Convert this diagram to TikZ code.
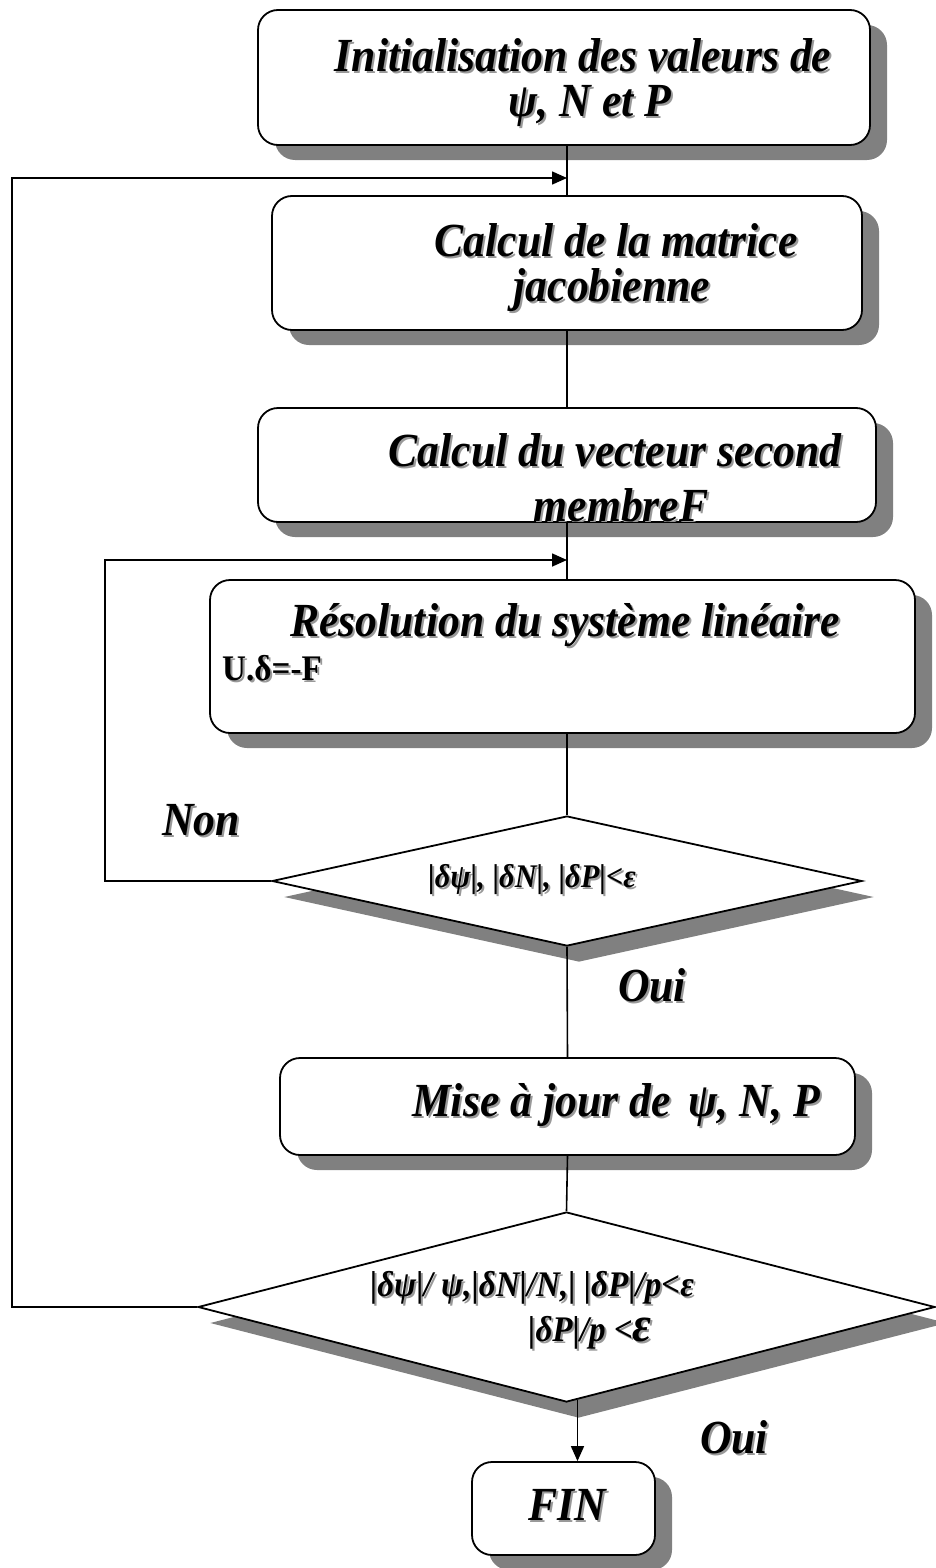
\documentclass[tikz,border=0pt]{standalone}
\usepackage{fontspec}
\usepackage{graphicx}
\setmainfont{Liberation Serif}
\usetikzlibrary{shapes.geometric,shadows,arrows.meta,calc}
\newcommand\stx[4]{%
  \node[#3, text=black!40] (#1sh) at ($(#2)+(2,2)$) {\scalebox{0.92}[1]{#4}};
  \node[#3] (#1) at (#2) {\scalebox{0.92}[1]{#4}};}
\tikzset{
  box/.style={draw, line width=1.8pt, rounded corners=20pt, fill=white, inner sep=0pt,
    drop shadow={fill=black!50, opacity=1, shadow xshift=17pt, shadow yshift=-15pt}},
  dia/.style={diamond, aspect=4.5, draw, line width=1.8pt, fill=white, inner sep=0pt,
    drop shadow={fill=black!50, opacity=1, shadow xshift=12pt, shadow yshift=-16pt}},
  conn/.style={line width=1.6pt},
  arr/.style={conn, -{Triangle[length=15pt,width=13pt]}},
  big/.style={font=\fontsize{47.5}{52}\selectfont\bfseries\itshape, inner sep=0pt},
  small/.style={font=\fontsize{33}{36}\selectfont\bfseries\itshape, inner sep=0pt},
  smallb/.style={font=\fontsize{36}{40}\selectfont\bfseries\itshape, inner sep=0pt},
  up/.style={font=\fontsize{36}{40}\selectfont\bfseries, inner sep=0pt},
}
\begin{document}
\begin{tikzpicture}[x=1pt,y=-1pt]
\useasboundingbox (0,0) rectangle (936,1568);
\fill[white] (0,0) rectangle (936,1568);
% boxes
\node[box, minimum width=612pt, minimum height=135pt] (b1) at (564,77.5) {};
\node[box, minimum width=590pt, minimum height=134pt] (b2) at (567,263) {};
\node[box, minimum width=618pt, minimum height=114pt] (b3) at (567,465) {};
\node[box, minimum width=705pt, minimum height=153pt] (b4) at (562.5,656.5) {};
\node[dia, minimum width=590pt, minimum height=130pt] (d1) at (567,881) {};
\node[box, minimum width=575pt, minimum height=97pt] (b5) at (567.5,1106.5) {};
\node[dia, minimum width=737pt, minimum height=190pt] (d2) at (566.5,1307) {};
\node[box, minimum width=183pt, minimum height=93pt] (fin) at (563.5,1508.5) {};
% texts
\stx{t1a}{583,55}{big}{Initialisation des valeurs de}
\stx{t1b}{590,106}{big}{ψ, N et P}
\stx{t2a}{616,240}{big}{Calcul de la matrice}
\stx{t2b}{612,290}{big}{jacobienne}
\stx{t3a}{615,450}{big}{Calcul du vecteur second}
\begin{scope}
\clip ($(b3.north west)+(2,0)$) rectangle ($(b3.south east)+(-2,-1)$);
\stx{t3b}{621,505}{big}{membreF}
\end{scope}
\stx{t4a}{565,625}{big}{Résolution du système linéaire}
\stx{t4b}{272,668}{up}{U.δ=-F}
\stx{non}{201,820}{big}{Non}
\stx{d1t}{532,880}{small}{|δψ|, |δN|, |δP|<ε}
\stx{oui1}{652,985}{big}{Oui}
\stx{t5}{616,1105}{big}{Mise à jour de \,ψ, N, P}
\stx{d2ta}{532,1288}{smallb}{|δψ|/ ψ,|δN|/N,| |δP|/p<ε}
\stx{d2tb}{590,1333}{smallb}{|δP|/p <{\fontsize{50}{50}\selectfont ε}}
\stx{oui2}{734,1437}{big}{Oui}
\stx{fint}{567,1505}{big}{FIN}
% connectors
\coordinate (m1) at (567,178);
\coordinate (m2) at (567,560);
\coordinate (l1) at (12,1307);
\coordinate (l1t) at (12,178);
\coordinate (l2) at (105,881);
\coordinate (l2t) at (105,560);
\coordinate (fa) at ($(d2.south)+(11,-3)$);
\draw[conn] (b2.north |- b1.south) -- (b2.north);
\draw[conn] (b2.south) -- (b3.north);
\draw[conn] (b3.south) -- (b3.south |- b4.north);
\draw[conn] (b3.south |- b4.south) -- (d1.north);
\draw[conn] (d1.south) -- (b5.north);
\draw[conn] (b5.south) -- (d2.north);
\draw[arr] (d2.west) -- (l1) -- (l1t) -- (m1);
\draw[arr] (d1.west) -- (l2) -- (l2t) -- (m2);
\draw[arr] (fa) -- (fa |- fin.north);
\end{tikzpicture}
\end{document}
